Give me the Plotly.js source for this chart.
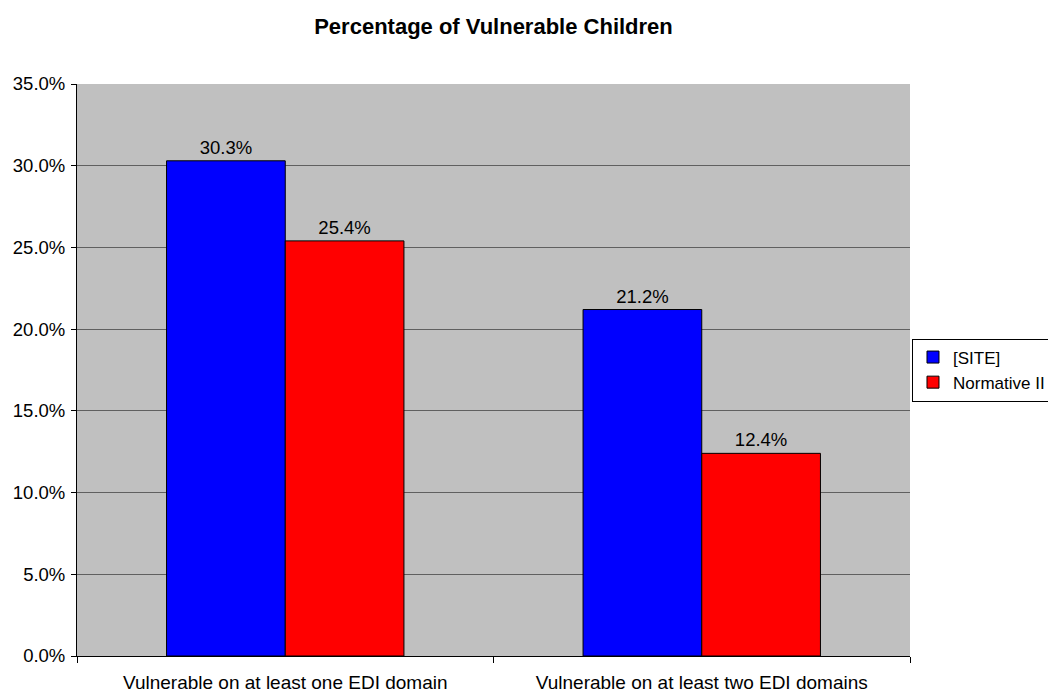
<!DOCTYPE html>
<html><head><meta charset="utf-8">
<script src="https://cdn.plot.ly/plotly-3.0.1.min.js"></script>
<style>body{margin:0;background:#fff}#chart{width:1048px;height:692px}</style>
</head><body><div id="chart"></div>
<script>
const categories = ["Vulnerable on at least one EDI domain", "Vulnerable on at least two EDI domains"];
const siteValues = [30.3, 21.2];
const normativeValues = [25.4, 12.4];
const seriesNames = ["[SITE]", "Normative II"];
const yTickVals = [0, 5, 10, 15, 20, 25, 30, 35];
const yTickText = ["0.0%", "5.0%", "10.0%", "15.0%", "20.0%", "25.0%", "30.0%", "35.0%"];

const fam = "Liberation Sans, Arial, sans-serif";
const font = {family: fam, size: 18.5, color: "#000"};
const mk = (name, vals, color) => ({
  type: "bar", name: name, x: categories, y: vals,
  marker: {color: color, line: {color: "#000", width: 1}},
  text: vals.map(v => v.toFixed(1) + "%"), textposition: "outside",
  textfont: {family: fam, size: 18.5, color: "#000"}, cliponaxis: false, hoverinfo: "none"
});
const data = [mk(seriesNames[0], siteValues, "#0000FF"), mk(seriesNames[1], normativeValues, "#FF0000")];
const layout = {
  width: 1048, height: 692,
  margin: {l: 77, r: 138, t: 84, b: 36, autoexpand: false},
  paper_bgcolor: "#fff", plot_bgcolor: "#C0C0C0",
  font: font,
  title: {text: "<b>Percentage of Vulnerable Children</b>", font: {family: fam, size: 22, color: "#000"}, x: 0.5, xanchor: "center", xref: "paper", y: 0.962, yanchor: "middle"},
  barmode: "group", bargap: 0.43, bargroupgap: 0,
  showlegend: true,
  legend: {x: 1.0024, xanchor: "left", y: 0.5, yanchor: "middle", bgcolor: "#fff", bordercolor: "#000", borderwidth: 1, font: {family: fam, size: 17, color: "#000"}, tracegroupgap: 0, itemwidth: 30},
  xaxis: {type: "category", showline: true, linecolor: "#000", linewidth: 1, ticks: "outside", tickson: "boundaries", ticklen: 6, tickcolor: "#000", tickfont: {family: fam, size: 19, color: "#000"}, ticklabelstandoff: 9, showgrid: false, automargin: false},
  yaxis: {range: [0, 35], tickvals: yTickVals, ticktext: yTickText, showline: true, linecolor: "#000", linewidth: 1, ticks: "outside", ticklen: 5, tickcolor: "#000", tickfont: {family: fam, size: 18.5, color: "#000"}, ticklabelstandoff: 2, showgrid: true, gridcolor: "#606060", gridwidth: 1, zeroline: false, automargin: false}
};
Plotly.newPlot("chart", data, layout, {displayModeBar: false, staticPlot: true});
</script></body></html>
